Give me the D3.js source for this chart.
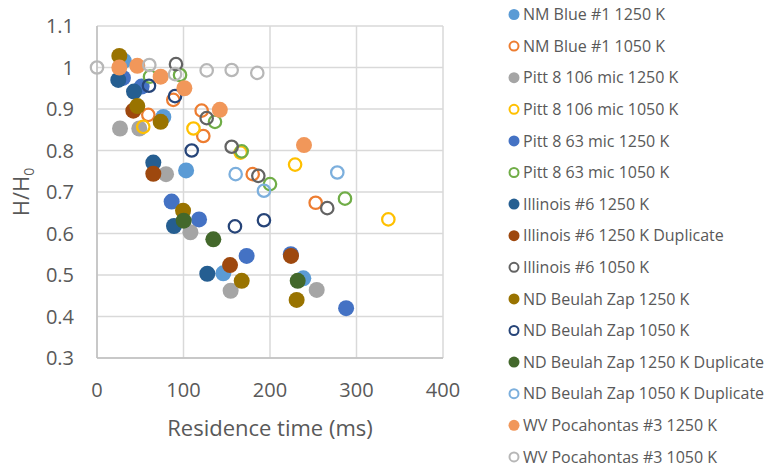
<!DOCTYPE html>
<html><head><meta charset="utf-8">
<script src="https://cdn.jsdelivr.net/npm/d3@7/dist/d3.min.js"></script>
<style>body{margin:0;background:#fff;} svg{display:block;font-family:"Open Sans",sans-serif;}</style>
</head><body>
<svg id="c" width="769" height="469"></svg>
<script>
const xTicks = [0, 100, 200, 300, 400];
const yTicks = [0.3, 0.4, 0.5, 0.6, 0.7, 0.8, 0.9, 1.0, 1.1];
const yTickLabels = ["0.3","0.4","0.5","0.6","0.7","0.8","0.9","1","1.1"];

const seriesNames = [
  "NM Blue #1 1250 K","NM Blue #1 1050 K","Pitt 8 106 mic 1250 K","Pitt 8 106 mic 1050 K",
  "Pitt 8 63 mic 1250 K","Pitt 8 63 mic 1050 K","Illinois #6 1250 K","Illinois #6 1250 K Duplicate",
  "Illinois #6 1050 K","ND Beulah Zap 1250 K","ND Beulah Zap 1050 K","ND Beulah Zap 1250 K Duplicate",
  "ND Beulah Zap 1050 K Duplicate","WV Pocahontas #3 1250 K","WV Pocahontas #3 1050 K"
];
const seriesColors = ["#5B9BD5","#ED7D31","#A5A5A5","#FFC000","#4472C4","#70AD47","#255E91","#9E480E",
  "#636363","#997300","#264478","#43682B","#7CAFDD","#F1975A","#B7B7B7"];
const seriesFilled = [true,false,true,false,true,false,true,true,false,true,false,true,false,true,false];

const nmBlue1250 = [[31,1.016],[76.7,0.881],[103,0.752],[146,0.504],[238.5,0.492]];
const nmBlue1050 = [[59.3,0.886],[88.2,0.922],[121,0.896],[122.9,0.835],[180,0.743],[252.8,0.674]];
const pitt106_1250 = [[26.6,0.853],[48.9,0.853],[79.8,0.743],[108,0.603],[154.5,0.462],[254,0.464]];
const pitt106_1050 = [[53.5,0.857],[111.5,0.853],[166,0.795],[229,0.766],[336.8,0.634]];
const pitt63_1250 = [[30,0.975],[51.6,0.954],[86.3,0.677],[118,0.634],[173,0.546],[224,0.55],[288,0.42]];
const pitt63_1050 = [[61.3,0.978],[96,0.982],[136.4,0.869],[167.3,0.798],[200,0.719],[286.7,0.684]];
const ill1250 = [[24.6,0.97],[42.8,0.942],[65.1,0.771],[89,0.618],[127.5,0.503]];
const ill1250dup = [[42,0.896],[65.1,0.744],[153.8,0.524],[224.3,0.546]];
const ill1050 = [[91.3,1.008],[126.8,0.878],[155.7,0.809],[186.5,0.739],[266.2,0.661]];
const nd1250 = [[25.8,1.028],[46.6,0.907],[73.6,0.869],[99.5,0.655],[167.3,0.486],[230.8,0.44]];
const nd1050 = [[60.1,0.956],[90.2,0.931],[109.5,0.80],[159.5,0.617],[193,0.632]];
const nd1250dup = [[100.2,0.631],[134.5,0.586],[232,0.486]];
const nd1050dup = [[160.3,0.743],[193,0.703],[277.8,0.747]];
const wv1250 = [[25.8,1.0],[46.6,1.004],[73.6,0.978],[101,0.95],[142,0.898],[239.3,0.813]];
const wv1050 = [[0,1.0],[60.5,1.006],[90.2,0.984],[126.8,0.993],[155.7,0.994],[185.3,0.987]];

const seriesData = [nmBlue1250,nmBlue1050,pitt106_1250,pitt106_1050,pitt63_1250,pitt63_1050,
  ill1250,ill1250dup,ill1050,nd1250,nd1050,nd1250dup,nd1050dup,wv1250,wv1050];

const svg = d3.select("#c");
const L = 97, R = 443, T = 26, B = 358;
const x = d3.scaleLinear().domain([0,400]).range([L,R]);
const y = d3.scaleLinear().domain([0.3,1.1]).range([B,T]);
const grid = "#d9d9d9", txt = "#595959";

// gridlines
svg.append("g").selectAll("line").data(yTicks).join("line")
  .attr("x1",L).attr("x2",R).attr("y1",d=>y(d)).attr("y2",d=>y(d))
  .attr("stroke",grid).attr("stroke-width",1.5);
svg.append("g").selectAll("line").data(xTicks).join("line")
  .attr("y1",T).attr("y2",B).attr("x1",d=>x(d)).attr("x2",d=>x(d))
  .attr("stroke",grid).attr("stroke-width",1.5);
// axes lines
svg.append("line").attr("x1",L).attr("x2",L).attr("y1",T).attr("y2",B).attr("stroke","#bfbfbf").attr("stroke-width",1.5);
svg.append("line").attr("x1",L).attr("x2",R).attr("y1",B).attr("y2",B).attr("stroke","#bfbfbf").attr("stroke-width",1.5);

// tick labels
svg.append("g").selectAll("text").data(yTicks).join("text")
  .attr("x",74).attr("y",d=>y(d)).attr("dy","0.36em").attr("text-anchor","end")
  .attr("font-size",20).attr("fill",txt).text((d,i)=>yTickLabels[i]);
svg.append("g").selectAll("text").data(xTicks).join("text")
  .attr("x",d=>x(d)).attr("y",397).attr("text-anchor","middle")
  .attr("font-size",20).attr("fill",txt).text(d=>d);

// axis titles
svg.append("text").attr("x",(L+R)/2).attr("y",436).attr("text-anchor","middle")
  .attr("font-size",22).attr("fill",txt).text("Residence time (ms)");
const yt = svg.append("text").attr("transform",`translate(29,${(T+B)/2}) rotate(-90)`)
  .attr("text-anchor","middle").attr("font-size",22).attr("fill",txt);
yt.append("tspan").text("H/H");
yt.append("tspan").attr("font-size",14).attr("dy",5).text("0");

// points
seriesData.forEach((data,i)=>{
  const g = svg.append("g");
  g.selectAll("circle").data(data).join("circle")
    .attr("cx",d=>x(d[0])).attr("cy",d=>y(d[1]))
    .attr("r",seriesFilled[i]?8:6.2)
    .attr("fill",seriesFilled[i]?seriesColors[i]:"none")
    .attr("stroke",seriesFilled[i]?"none":seriesColors[i])
    .attr("stroke-width",2.25);
});

// legend
const lg = svg.append("g");
seriesNames.forEach((n,i)=>{
  const yy = 14.5 + i*31.6;
  lg.append("circle").attr("cx",514).attr("cy",yy)
    .attr("r",seriesFilled[i]?5.5:4.5)
    .attr("fill",seriesFilled[i]?seriesColors[i]:"none")
    .attr("stroke",seriesFilled[i]?"none":seriesColors[i]).attr("stroke-width",2);
  lg.append("text").attr("x",523).attr("y",yy).attr("dy","0.35em")
    .attr("font-size",16).attr("fill",txt).text(n);
});
</script>
</body></html>
